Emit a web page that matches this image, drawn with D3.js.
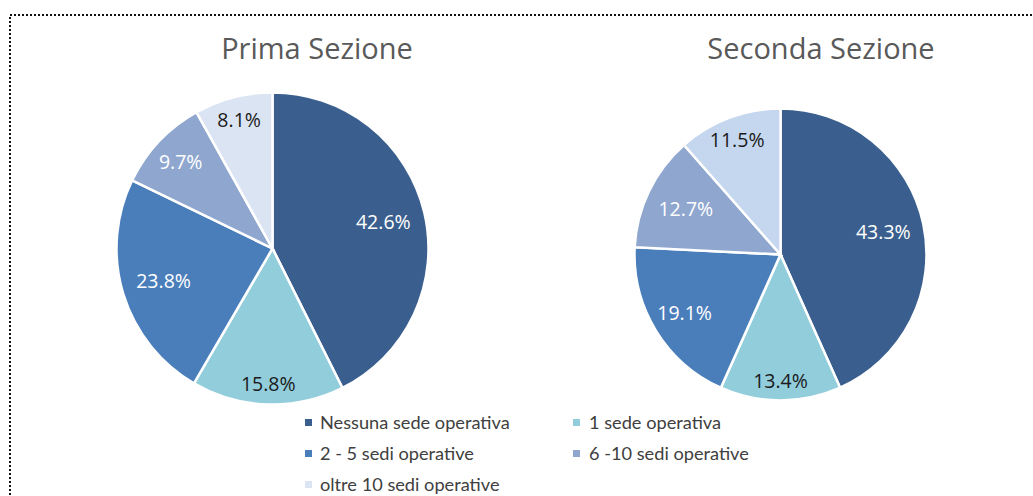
<!DOCTYPE html>
<html>
<head>
<meta charset="utf-8">
<script src="https://cdn.jsdelivr.net/npm/d3@7"></script>
<style>
  body { margin: 0; background: #fff; }
</style>
</head>
<body>
<div id="chart"></div>
<script>
// categories shared by both pies
var categories = ["Nessuna sede operativa", "1 sede operativa", "2 - 5 sedi operative", "6 -10 sedi operative", "oltre 10 sedi operative"];
var titles = ["Prima Sezione", "Seconda Sezione"];
var primaValues = [42.6, 15.8, 23.8, 9.7, 8.1];
var secondaValues = [43.3, 13.4, 19.1, 12.7, 11.5];

var width = 1033, height = 496;

var svg = d3.select("#chart").append("svg")
    .attr("width", width)
    .attr("height", height);

// dotted frame, runs off the right and bottom edges
svg.append("rect")
    .attr("x", 10).attr("y", 15)
    .attr("width", 1040).attr("height", 500)
    .attr("fill", "none")
    .attr("stroke", "#111")
    .attr("stroke-width", 2)
    .attr("stroke-dasharray", "2,2");

var colors1 = ["#3a5f8e", "#92cddc", "#4a7ebb", "#8fa7cf", "#dbe4f2"];
var colors2 = ["#3a5f8e", "#92cddc", "#4a7ebb", "#8fa7cf", "#c5d7ee"];
var textColors = ["#fff", "#1a1a1a", "#fff", "#fff", "#1a1a1a"];

var pies = [
    { values: primaValues, title: titles[0], cx: 272.5, cy: 248.5, r: 156, titleX: 317, colors: colors1,
      labelR: [0.73, 0.87, 0.73, 0.81, 0.85] },
    { values: secondaValues, title: titles[1], cx: 780.5, cy: 254.5, r: 146, titleX: 821, colors: colors2,
      labelR: [0.72, 0.87, 0.77, 0.72, 0.84] }
];

var pie = d3.pie().sort(null).value(function(d) { return d; });

pies.forEach(function(p) {
    svg.append("text")
        .attr("x", p.titleX).attr("y", 59)
        .attr("text-anchor", "middle")
        .attr("font-family", "'Open Sans', sans-serif")
        .attr("font-size", 29)
        .attr("fill", "#595959")
        .text(p.title);

    var g = svg.append("g").attr("transform", "translate(" + p.cx + "," + p.cy + ")");
    var arc = d3.arc().innerRadius(0).outerRadius(p.r);
    var arcs = pie(p.values);

    g.selectAll("path")
        .data(arcs)
        .enter().append("path")
        .attr("d", arc)
        .attr("fill", function(d, i) { return p.colors[i]; })
        .attr("stroke", "#fff")
        .attr("stroke-width", 2.5);

    g.selectAll("text")
        .data(arcs)
        .enter().append("text")
        .attr("transform", function(d, i) {
            var lr = p.r * p.labelR[i];
            var c = d3.arc().innerRadius(lr).outerRadius(lr).centroid(d);
            return "translate(" + c[0] + "," + c[1] + ")";
        })
        .attr("text-anchor", "middle")
        .attr("dy", "0.35em")
        .attr("font-family", "'Open Sans', sans-serif")
        .attr("font-size", 19.5)
        .attr("fill", function(d, i) { return textColors[i]; })
        .text(function(d) { return d.value.toFixed(1) + "%"; });
});

// legend, two columns
var legend = svg.append("g");
var items = legend.selectAll("g")
    .data(categories)
    .enter().append("g")
    .attr("transform", function(d, i) {
        var x = (i % 2 === 0) ? 305 : 573;
        var y = 422.5 + Math.floor(i / 2) * 31;
        return "translate(" + x + "," + y + ")";
    });

items.append("rect")
    .attr("x", 0).attr("y", -3.5)
    .attr("width", 7).attr("height", 7)
    .attr("fill", function(d, i) { return colors1[i]; });

items.append("text")
    .attr("x", function(d, i) { return i % 2 === 0 ? 15 : 16; })
    .attr("dy", "0.35em")
    .attr("font-family", "Lato, sans-serif")
    .attr("font-size", 18.2)
    .attr("fill", "#404040")
    .text(function(d) { return d; });
</script>
</body>
</html>
